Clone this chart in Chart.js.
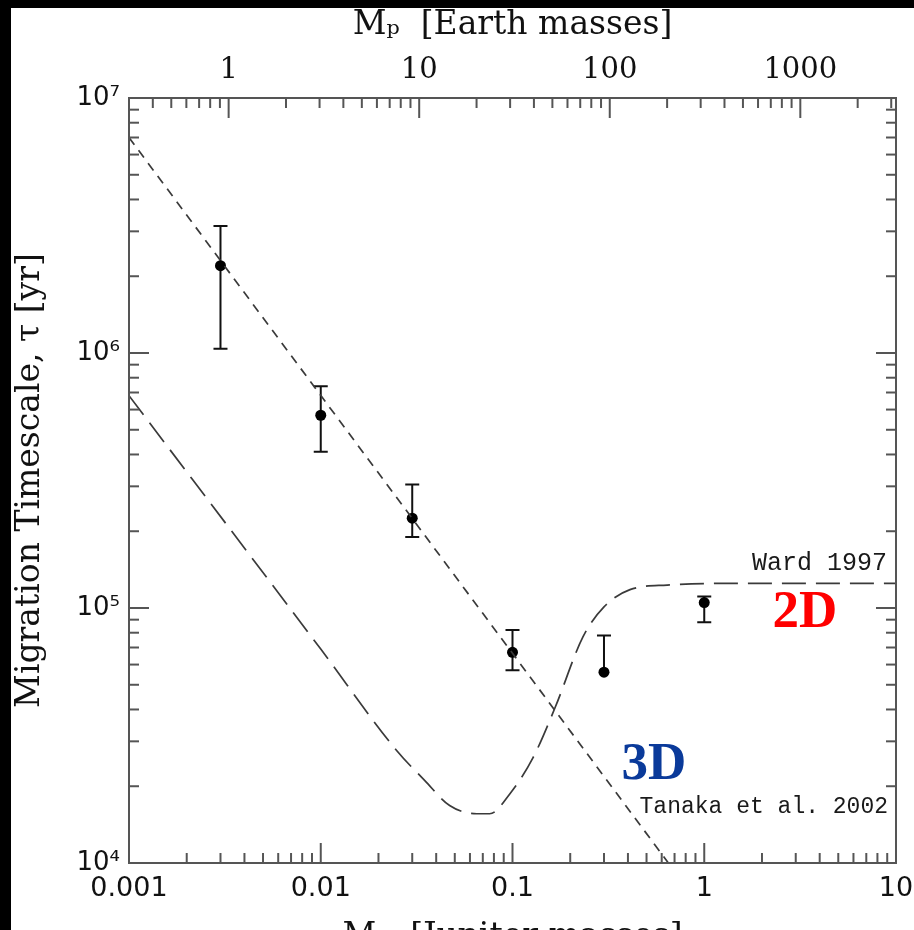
<!DOCTYPE html>
<html>
<head>
<meta charset="utf-8">
<script src="https://cdn.jsdelivr.net/npm/chart.js@4"></script>
<style>
html, body { margin: 0; padding: 0; background: #000; overflow: hidden; }
#wrap { position: absolute; left: 11px; top: 8px; width: 903px; height: 960px; background: #fff; }
</style>
</head>
<body>
<div id="wrap"><canvas id="myChart"></canvas></div>
<script>
const earthPerJupiter = 317.8;

// simulation points (Jupiter masses, years)
const simMass = [0.003, 0.01, 0.03, 0.1, 0.3, 1];
const simTau = [2.2e6, 5.7e5, 2.25e5, 6.7e4, 5.6e4, 1.05e5];
const simTauHigh = [3.15e6, 7.4e5, 3.05e5, 8.2e4, 7.8e4, 1.11e5];
const simTauLow = [1.04e6, 4.1e5, 1.9e5, 5.7e4, 5.6e4, 8.8e4];

// Tanaka et al. 2002 (3D)
const tanakaMass = [0.001, 0.65];
const tanakaTau = [7.0e6, 1.0e4];

// Ward 1997 (2D)
const wardMass = [0.001, 0.01, 0.025, 0.035, 0.047, 0.065, 0.076, 0.097, 0.128, 0.167, 0.233, 0.3, 0.41, 0.64, 1.74, 10];
const wardTau = [6.8e5, 6.9e4, 2.75e4, 2.1e4, 1.68e4, 1.56e4, 1.56e4, 1.87e4, 2.59e4, 4.08e4, 7.7e4, 1.01e5, 1.18e5, 1.23e5, 1.25e5, 1.25e5];

const xTicks = [0.001, 0.01, 0.1, 1, 10];
const xTickLabels = ['0.001', '0.01', '0.1', '1', '10'];
const topTicks = [1, 10, 100, 1000];
const topTickLabels = ['1', '10', '100', '1000'];
const yTicks = [1e4, 1e5, 1e6, 1e7];
const yTickLabels = ['10⁴', '10⁵', '10⁶', '10⁷'];

function toPoints(xs, ys) {
  return xs.map((v, i) => ({x: v, y: ys[i]}));
}

function logTicks(min, max) {
  const out = [];
  for (let k = Math.floor(Math.log10(min)); k <= Math.ceil(Math.log10(max)); k++) {
    for (let m = 1; m <= 9; m++) {
      const v = m * Math.pow(10, k);
      if (v > min * 1.0001 && v < max * 0.9999) out.push({v: v, major: m === 1});
    }
  }
  return out;
}

const frameTicks = {
  id: 'frameTicks',
  afterDatasetsDraw(chart) {
    const ctx = chart.ctx, a = chart.chartArea;
    ctx.save();
    ctx.strokeStyle = '#555';
    ctx.lineWidth = 2;
    ctx.strokeRect(a.left, a.top, a.right - a.left, a.bottom - a.top);
    const sides = [['x', a.bottom, -1], ['x2', a.top, 1], ['y', a.left, 1], ['y', a.right, -1]];
    sides.forEach(([id, edge, dir]) => {
      const s = chart.scales[id];
      logTicks(s.min, s.max).forEach(t => {
        const p = s.getPixelForValue(t.v);
        const len = t.major ? 20 : 10;
        ctx.beginPath();
        if (s.isHorizontal()) { ctx.moveTo(p, edge); ctx.lineTo(p, edge + dir * len); }
        else { ctx.moveTo(edge, p); ctx.lineTo(edge + dir * len, p); }
        ctx.stroke();
      });
    });
    ctx.restore();
  }
};

const errorBars = {
  id: 'errorBars',
  beforeDatasetDraw(chart, args) {
    if (args.index !== 2) return;
    const ctx = chart.ctx, y = chart.scales.y;
    ctx.save();
    ctx.strokeStyle = '#111';
    ctx.lineWidth = 2;
    args.meta.data.forEach((pt, i) => {
      const top = y.getPixelForValue(simTauHigh[i]);
      const bot = y.getPixelForValue(simTauLow[i]);
      ctx.beginPath();
      ctx.moveTo(pt.x, top); ctx.lineTo(pt.x, bot);
      ctx.moveTo(pt.x - 7, top); ctx.lineTo(pt.x + 7, top);
      if (simTauLow[i] < simTau[i]) { ctx.moveTo(pt.x - 7, bot); ctx.lineTo(pt.x + 7, bot); }
      ctx.stroke();
    });
    ctx.restore();
  }
};

const notes = {
  id: 'notes',
  afterDraw(chart) {
    const ctx = chart.ctx, a = chart.chartArea, y = chart.scales.y;
    ctx.save();
    ctx.fillStyle = '#1a1a1a';
    ctx.font = '25px "Liberation Mono"';
    ctx.textAlign = 'right';
    ctx.textBaseline = 'alphabetic';
    ctx.fillText('Ward 1997', a.right - 9, y.getPixelForValue(wardTau[wardTau.length - 1]) - 13);
    ctx.font = '23px "Liberation Mono"';
    ctx.fillText('Tanaka et al. 2002', a.right - 8, a.bottom - 50);
    ctx.font = 'bold 53px "Liberation Serif"';
    ctx.textAlign = 'center';
    ctx.textBaseline = 'middle';
    ctx.fillStyle = '#ff0000';
    ctx.fillText('2D', a.right - 91, y.getPixelForValue(1.0e5) + 5);
    ctx.fillStyle = '#0a3a9a';
    ctx.fillText('3D', a.right - 242, y.getPixelForValue(2.5e4) + 4);
    ctx.restore();
  }
};

const ctx = document.getElementById('myChart').getContext('2d');
const myChart = new Chart(ctx, {
  type: 'scatter',
  data: {
    datasets: [{
      label: 'Ward 1997',
      data: toPoints(wardMass, wardTau),
      showLine: true,
      borderColor: '#3a3a3a',
      borderWidth: 1.7,
      borderDash: [24, 10],
      pointRadius: 0,
      cubicInterpolationMode: 'monotone'
    }, {
      label: 'Tanaka et al. 2002',
      data: toPoints(tanakaMass, tanakaTau),
      showLine: true,
      borderColor: '#3a3a3a',
      borderWidth: 1.7,
      borderDash: [9, 7],
      pointRadius: 0
    }, {
      label: 'simulations',
      data: toPoints(simMass, simTau),
      showLine: false,
      pointRadius: 5.5,
      backgroundColor: '#000',
      borderWidth: 0
    }]
  },
  options: {
    responsive: true,
    maintainAspectRatio: false,
    animation: false,
    layout: { padding: { left: 0, right: 18, top: 0, bottom: 0 } },
    plugins: { legend: { display: false }, tooltip: { enabled: false } },
    scales: {
      x: {
        type: 'logarithmic',
        position: 'bottom',
        min: 0.001,
        max: 10,
        grid: { display: false, drawTicks: false },
        border: { display: false },
        afterBuildTicks: s => { s.ticks = xTicks.map(v => ({value: v})); },
        afterFit: s => { s.height = 105; s.paddingLeft = 0; s.paddingRight = 0; },
        ticks: {
          callback: (v, i) => xTickLabels[i],
          autoSkip: false, maxRotation: 0, padding: 10, color: '#111',
          font: { family: 'DejaVu Sans', size: 27 }
        },
        title: {
          display: true,
          text: 'Mₚ  [Jupiter masses]',
          color: '#111',
          font: { family: 'DejaVu Serif', size: 33, lineHeight: 1 },
          padding: { top: 0, bottom: 14 }
        }
      },
      x2: {
        type: 'logarithmic',
        position: 'top',
        axis: 'x',
        min: 0.001 * earthPerJupiter,
        max: 10 * earthPerJupiter,
        grid: { display: false, drawTicks: false },
        border: { display: false },
        afterBuildTicks: s => { s.ticks = topTicks.map(v => ({value: v})); },
        afterFit: s => { s.height = 90; s.paddingLeft = 0; s.paddingRight = 0; },
        ticks: {
          callback: (v, i) => topTickLabels[i],
          autoSkip: false, maxRotation: 0, padding: 10, color: '#111',
          font: { family: 'DejaVu Serif', size: 29 }
        },
        title: {
          display: true,
          text: 'Mₚ  [Earth masses]',
          color: '#111',
          font: { family: 'DejaVu Serif', size: 33, lineHeight: 1 },
          padding: { top: 1, bottom: 0 }
        }
      },
      y: {
        type: 'logarithmic',
        position: 'left',
        min: 1e4,
        max: 1e7,
        grid: { display: false, drawTicks: false },
        border: { display: false },
        afterBuildTicks: s => { s.ticks = yTicks.map(v => ({value: v})); },
        afterFit: s => { s.width = 118; },
        ticks: {
          callback: (v, i) => yTickLabels[i],
          autoSkip: false, padding: 9, color: '#111',
          font: { family: 'DejaVu Sans', size: 26 }
        },
        title: {
          display: true,
          text: 'Migration Timescale, τ [yr]',
          color: '#111',
          font: { family: 'DejaVu Serif', size: 33, lineHeight: 1 },
          padding: { top: 3, bottom: 0 }
        }
      }
    }
  },
  plugins: [frameTicks, errorBars, notes]
});
</script>
</body>
</html>
